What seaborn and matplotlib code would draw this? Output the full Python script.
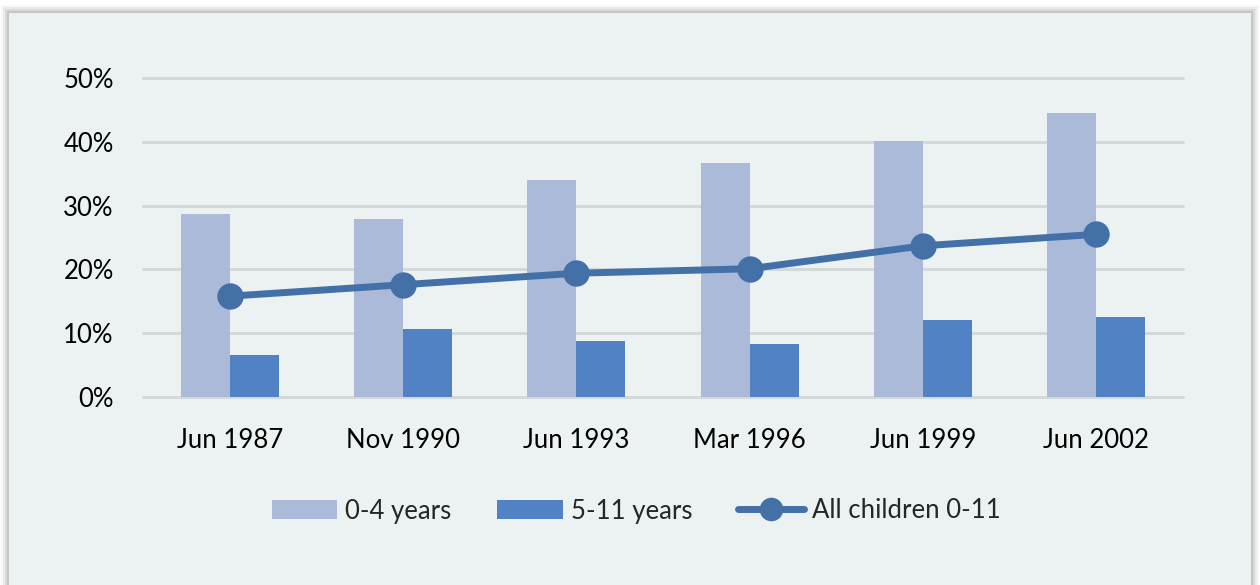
import matplotlib
matplotlib.use("Agg")
import matplotlib.pyplot as plt
import matplotlib.patches as mpatches
from matplotlib.lines import Line2D
import seaborn as sns
import pandas as pd

# Survey dates and shares of children (%)
periods = ["Jun 1987", "Nov 1990", "Jun 1993", "Mar 1996", "Jun 1999", "Jun 2002"]
age_0_4 = [28.7, 27.9, 34.0, 36.7, 40.1, 44.5]
age_5_11 = [6.6, 10.7, 8.8, 8.3, 12.1, 12.5]
all_0_11 = [15.8, 17.6, 19.4, 20.1, 23.7, 25.5]
series_names = ["0-4 years", "5-11 years", "All children 0-11"]
y_ticks = [0, 10, 20, 30, 40, 50]

c_light = "#AABAD8"
c_dark = "#5082C4"
c_line = "#4470A8"
panel_bg = "#ECF2F2"
grid_c = "#D3D9D9"
FS = 18.5

sns.set_theme(style="white")
plt.rcParams["font.family"] = ["Lato", "DejaVu Sans"]

fig = plt.figure(figsize=(12.6, 5.85), dpi=100)
fig.patch.set_facecolor("white")

# panel with soft shadow
W, H = 1260, 585
x0, y0 = 9, 13  # pixel offsets of panel top-left
for i, a in enumerate([0.03, 0.05, 0.07, 0.09]):
    d = 8 - 2 * i
    fig.patches.append(mpatches.Rectangle(((x0 - d) / W, 0), (W - 2 * (x0 - d)) / W, (H - y0 + d) / H,
                                          transform=fig.transFigure, facecolor="black", alpha=a,
                                          edgecolor="none", zorder=-3))
fig.patches.append(mpatches.Rectangle((x0 / W, 0), (W - 2 * x0) / W, (H - y0) / H,
                                      transform=fig.transFigure, facecolor=panel_bg,
                                      edgecolor="none", zorder=-2))

ax = fig.add_axes([143 / W, 1 - 397 / H, (1183 - 143) / W, (397 - 78) / H])
ax.set_facecolor("none")

bars = pd.DataFrame({
    "period": periods * 2,
    "value": age_0_4 + age_5_11,
    "group": [series_names[0]] * len(periods) + [series_names[1]] * len(periods),
})
sns.barplot(data=bars, x="period", y="value", hue="group", order=periods,
            palette=[c_light, c_dark], width=0.567, gap=0, saturation=1,
            linewidth=0, ax=ax, legend=False, zorder=2)

line_df = pd.DataFrame({"x": range(len(periods)), "value": all_0_11})
sns.lineplot(data=line_df, x="x", y="value", color=c_line, linewidth=5,
             marker="o", markersize=19, markeredgewidth=0, ax=ax, zorder=3)

ax.set_xlim(-0.5, len(periods) - 0.5)
ax.set_ylim(0, 50)
ax.set_yticks(y_ticks)
ax.set_yticklabels([f"{t}%" for t in y_ticks])
ax.set_xticks(range(len(periods)))
ax.set_xticklabels(periods)
for t in y_ticks:
    ax.axhline(t, color=grid_c, linewidth=2.2, zorder=1, clip_on=False)
for s in ax.spines.values():
    s.set_visible(False)
ax.tick_params(axis="both", length=0, labelsize=FS, colors="black")
ax.tick_params(axis="y", pad=21)
ax.tick_params(axis="x", pad=22)
ax.set_xlabel("")
ax.set_ylabel("")

handles = [
    mpatches.Patch(facecolor=c_light, edgecolor="none"),
    mpatches.Patch(facecolor=c_dark, edgecolor="none"),
    Line2D([0], [0], color=c_line, linewidth=5, marker="o", markersize=17, markeredgewidth=0),
]
fig.legend(handles, series_names, loc="center", bbox_to_anchor=(636 / W, 1 - 511 / H),
           ncol=3, frameon=False, fontsize=FS, handlelength=2.55, handleheight=0.75,
           handletextpad=0.3, columnspacing=1.8)

fig.savefig("out.png", dpi=100, facecolor=fig.get_facecolor())
